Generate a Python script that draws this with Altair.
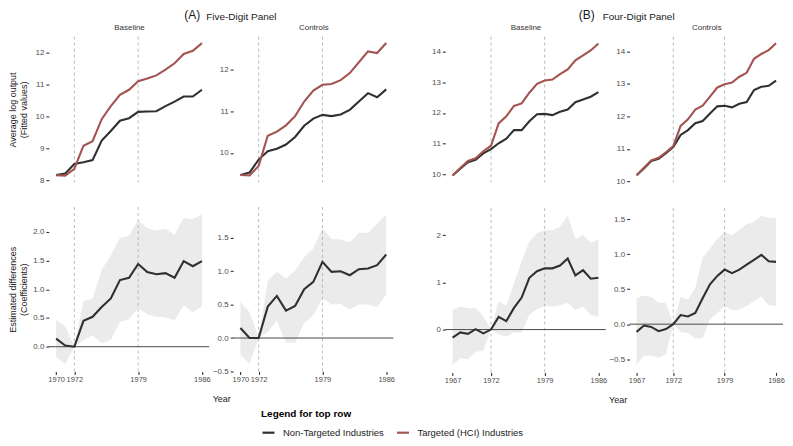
import altair as alt
import pandas as pd

FONT = "Liberation Sans"

YEARS_A = list(range(1970, 1987))
YEARS_B = list(range(1967, 1987))
EVENT_YEARS = [1972, 1979]
SERIES = ["Non-Targeted Industries", "Targeted (HCI) Industries"]
COLORS = ["#303030", "#a35451"]

# Top row: average log output (fitted values)
A_BASE_NON = [8.16, 8.21, 8.51, 8.56, 8.63, 9.24, 9.54, 9.86, 9.94, 10.14, 10.15, 10.16, 10.32, 10.46, 10.62, 10.62, 10.83]
A_BASE_TGT = [8.16, 8.14, 8.36, 9.08, 9.22, 9.91, 10.32, 10.67, 10.83, 11.10, 11.18, 11.28, 11.46, 11.66, 11.95, 12.05, 12.29]
A_CTRL_NON = [9.47, 9.53, 9.84, 10.04, 10.10, 10.20, 10.38, 10.65, 10.82, 10.91, 10.88, 10.92, 11.03, 11.23, 11.43, 11.33, 11.52]
A_CTRL_TGT = [9.47, 9.46, 9.69, 10.41, 10.51, 10.66, 10.88, 11.23, 11.49, 11.63, 11.65, 11.74, 11.91, 12.17, 12.43, 12.39, 12.63]
B_BASE_NON = [9.96, 10.18, 10.39, 10.47, 10.68, 10.82, 11.01, 11.16, 11.44, 11.44, 11.73, 11.96, 11.97, 11.93, 12.04, 12.11, 12.35, 12.44, 12.53, 12.68]
B_BASE_TGT = [9.96, 10.20, 10.43, 10.52, 10.75, 10.93, 11.66, 11.89, 12.23, 12.31, 12.66, 12.95, 13.06, 13.09, 13.27, 13.42, 13.72, 13.88, 14.04, 14.27]
B_CTRL_NON = [10.19, 10.40, 10.63, 10.70, 10.87, 11.06, 11.43, 11.58, 11.79, 11.86, 12.09, 12.31, 12.33, 12.28, 12.39, 12.44, 12.81, 12.91, 12.94, 13.10]
B_CTRL_TGT = [10.19, 10.42, 10.65, 10.73, 10.90, 11.09, 11.71, 11.91, 12.21, 12.33, 12.61, 12.89, 12.99, 13.04, 13.22, 13.34, 13.77, 13.92, 14.04, 14.25]

# Bottom row: estimated differences (coefficients) with confidence bands
A_BASE_COEF = [0.14, 0.02, 0.00, 0.45, 0.52, 0.69, 0.84, 1.16, 1.20, 1.44, 1.30, 1.26, 1.28, 1.20, 1.49, 1.40, 1.49]
A_BASE_HI = [0.47, 0.35, 0.00, 0.79, 0.84, 1.34, 1.59, 1.89, 1.93, 2.20, 2.06, 2.02, 2.05, 1.95, 2.24, 2.22, 2.30]
A_BASE_LO = [-0.18, -0.30, 0.00, 0.11, 0.20, 0.06, 0.12, 0.43, 0.48, 0.68, 0.56, 0.52, 0.51, 0.46, 0.72, 0.60, 0.70]
A_CTRL_COEF = [0.15, 0.00, 0.00, 0.47, 0.63, 0.41, 0.48, 0.73, 0.84, 1.14, 0.99, 1.00, 0.94, 1.03, 1.04, 1.09, 1.25]
A_CTRL_HI = [0.54, 0.39, 0.00, 0.86, 0.99, 0.89, 1.01, 1.21, 1.34, 1.65, 1.48, 1.48, 1.43, 1.58, 1.57, 1.71, 1.85]
A_CTRL_LO = [-0.25, -0.39, 0.00, 0.09, 0.26, -0.07, -0.07, 0.23, 0.34, 0.60, 0.50, 0.51, 0.43, 0.50, 0.50, 0.46, 0.65]
B_BASE_COEF = [-0.17, -0.06, -0.09, 0.01, -0.08, 0.00, 0.27, 0.18, 0.46, 0.68, 1.10, 1.24, 1.30, 1.30, 1.36, 1.51, 1.15, 1.26, 1.08, 1.10]
B_BASE_HI = [0.41, 0.49, 0.46, 0.45, 0.29, 0.00, 0.60, 0.50, 0.99, 1.45, 1.87, 2.05, 2.11, 2.11, 2.19, 2.42, 1.92, 2.01, 1.85, 1.91]
B_BASE_LO = [-0.75, -0.61, -0.63, -0.47, -0.45, 0.00, -0.10, -0.15, -0.06, -0.06, 0.32, 0.43, 0.50, 0.49, 0.51, 0.57, 0.41, 0.49, 0.31, 0.27]
B_CTRL_COEF = [-0.11, -0.02, -0.04, -0.10, -0.07, 0.00, 0.13, 0.11, 0.16, 0.37, 0.57, 0.69, 0.78, 0.73, 0.78, 0.85, 0.92, 0.99, 0.90, 0.89]
B_CTRL_HI = [0.37, 0.41, 0.39, 0.31, 0.30, 0.00, 0.39, 0.35, 0.52, 0.95, 1.08, 1.22, 1.32, 1.27, 1.35, 1.43, 1.46, 1.55, 1.52, 1.52]
B_CTRL_LO = [-0.58, -0.45, -0.45, -0.48, -0.43, 0.00, -0.11, -0.13, -0.21, -0.20, 0.07, 0.16, 0.26, 0.20, 0.21, 0.26, 0.33, 0.40, 0.27, 0.26]

XTICKS_A = [1970, 1972, 1979, 1986]
XTICKS_B = [1967, 1972, 1979, 1986]
XDOM_A = [1969.2, 1986.8]
XDOM_B = [1966.05, 1986.95]

W = 161
W_LAST = 154
H_TOP = 146
H_BOT = 165
EXT = 14
YTX = -36.5

LEGEND = alt.Legend(
    orient="none", legendX=213, legendY=374, direction="horizontal",
    title="Legend for top row", titleFont=FONT, titleFontSize=10, titleFontWeight="bold",
    titleColor="#000000", titlePadding=6, labelFont=FONT, labelFontSize=9.5,
    labelColor="#1a1a1a", symbolType="stroke", symbolStrokeWidth=2.2, symbolSize=144,
    labelOffset=7, columnPadding=8,
)


def block_title(text, size, dx):
    return alt.TitleParams(text, fontSize=size, font=FONT, fontWeight="normal", color="#1a1a1a",
                           anchor="start", frame="group", dx=dx, offset=2)


def top_panel(years, non, tgt, xdom, ydom, yticks, head, width, ytitle=None, btitle=None):
    df = pd.DataFrame({
        "year": years + years,
        "value": non + tgt,
        "series": [SERIES[0]] * len(years) + [SERIES[1]] * len(years),
    })
    xs = alt.Scale(domain=xdom, nice=False, zero=False)
    ys = alt.Scale(domain=ydom, nice=False, zero=False)
    xax = alt.Axis(orient="top", labels=False, ticks=False, domain=False, title=head,
                   titleFontSize=8, titleColor="#333333", titleX=width / 2, titleY=-9,
                   titleBaseline="middle", titleAlign="center")
    yax = dict(values=yticks, format="d", minExtent=EXT, maxExtent=EXT)
    if ytitle:
        yax.update(title=ytitle, titleX=YTX, titleY=H_TOP / 2, titleAngle=270,
                   titleBaseline="middle", titleAlign="center", titleLineHeight=11)
    else:
        yax.update(title="")
    X = alt.X("year:Q", scale=xs, axis=xax)
    ev = alt.Chart(pd.DataFrame({"year": EVENT_YEARS})).mark_rule(
        color="#a8a8a8", strokeDash=[3, 3], strokeWidth=0.8).encode(x=X)
    lines = alt.Chart(df).mark_line(strokeWidth=2.1).encode(
        x=X,
        y=alt.Y("value:Q", scale=ys, axis=alt.Axis(**yax)),
        color=alt.Color("series:N", scale=alt.Scale(domain=SERIES, range=COLORS), legend=LEGEND),
    )
    props = dict(width=width, height=H_TOP)
    if btitle:
        props["title"] = btitle
    return alt.layer(ev, lines).properties(**props)


def bot_panel(years, coef, lo, hi, xdom, xticks, ydom, yticks, yfmt, width, ytitle=None, xtitle=False):
    df = pd.DataFrame({"year": years, "coef": coef, "lo": lo, "hi": hi})
    xs = alt.Scale(domain=xdom, nice=False, zero=False)
    ys = alt.Scale(domain=ydom, nice=False, zero=False)
    xax = dict(values=xticks, format="d", labelPadding=1, labelFontSize=7.5)
    if xtitle:
        xax.update(title="Year", titleX=173, titleY=27, titleBaseline="middle", titleAlign="center")
    else:
        xax.update(title="")
    yax = dict(values=yticks, format=yfmt, minExtent=EXT, maxExtent=EXT)
    if ytitle:
        yax.update(title=ytitle, titleX=YTX, titleY=H_BOT / 2, titleAngle=270,
                   titleBaseline="middle", titleAlign="center", titleLineHeight=11)
    else:
        yax.update(title="")
    X = alt.X("year:Q", scale=xs, axis=alt.Axis(**xax))
    band = alt.Chart(df).mark_area(color="#ebebeb", opacity=1).encode(
        x=X, y=alt.Y("lo:Q", scale=ys, axis=alt.Axis(**yax)), y2="hi:Q")
    ev = alt.Chart(pd.DataFrame({"year": EVENT_YEARS})).mark_rule(
        color="#a8a8a8", strokeDash=[3, 3], strokeWidth=0.8).encode(x=X)
    zero = alt.Chart(pd.DataFrame({"zero": [0.0]})).mark_rule(
        color="#4a4a4a", strokeWidth=1).encode(y=alt.Y("zero:Q", scale=ys, axis=alt.Axis(**yax)))
    line = alt.Chart(df).mark_line(color=COLORS[0], strokeWidth=2.1).encode(
        x=X, y=alt.Y("coef:Q", scale=ys, axis=alt.Axis(**yax)))
    return alt.layer(band, ev, zero, line).properties(width=width, height=H_BOT)


YT_TOP = ["Average log output", "(Fitted values)"]
YT_BOT = ["Estimated differences", "(Coefficients)"]

a1 = top_panel(YEARS_A, A_BASE_NON, A_BASE_TGT, XDOM_A, [7.94, 12.49], [8, 9, 10, 11, 12], "Baseline", W,
               YT_TOP, block_title("(A)", 12, 136))
a2 = top_panel(YEARS_A, A_CTRL_NON, A_CTRL_TGT, XDOM_A, [9.30, 12.78], [10, 11, 12], "Controls", W,
               None, block_title("Five-Digit Panel", 10, -27))
b1 = top_panel(YEARS_B, B_BASE_NON, B_BASE_TGT, XDOM_B, [9.74, 14.49], [10, 11, 12, 13, 14], "Baseline", W,
               None, block_title("(B)", 12, 134))
b2 = top_panel(YEARS_B, B_CTRL_NON, B_CTRL_TGT, XDOM_B, [9.98, 14.45], [10, 11, 12, 13, 14], "Controls", W_LAST,
               None, block_title("Four-Digit Panel", 10, -27))

a3 = bot_panel(YEARS_A, A_BASE_COEF, A_BASE_LO, A_BASE_HI, XDOM_A, XTICKS_A, [-0.43, 2.43], [0, 0.5, 1, 1.5, 2], ".1f", W, YT_BOT, True)
a4 = bot_panel(YEARS_A, A_CTRL_COEF, A_CTRL_LO, A_CTRL_HI, XDOM_A, XTICKS_A, [-0.50, 1.96], [-0.5, 0, 0.5, 1, 1.5], ".1f", W)
b3 = bot_panel(YEARS_B, B_BASE_COEF, B_BASE_LO, B_BASE_HI, XDOM_B, XTICKS_B, [-0.91, 2.58], [0, 1, 2], "d", W, None, True)
b4 = bot_panel(YEARS_B, B_CTRL_COEF, B_CTRL_LO, B_CTRL_HI, XDOM_B, XTICKS_B, [-0.69, 1.66], [-0.5, 0, 0.5, 1, 1.5], ".1f", W_LAST)


def block(top_l, top_r, bot_l, bot_r):
    top_row = alt.hconcat(top_l, top_r, spacing=24, bounds="flush")
    bot_row = alt.hconcat(bot_l, bot_r, spacing=24, bounds="flush")
    return alt.vconcat(top_row, bot_row, spacing=21)


blockA = block(a1, a2, a3, a4)
blockB = block(b1, b2, b3, b4)

chart = alt.hconcat(blockA, blockB, spacing=36).properties(
    padding=0,
).configure_view(stroke=None).configure_axis(
    grid=False, domain=False, labelFont=FONT, titleFont=FONT, labelFontSize=8,
    labelColor="#4d4d4d", tickColor="#333333", tickSize=3, tickWidth=1.1,
    labelPadding=2, titleFontWeight="normal", titleColor="#1a1a1a", titleFontSize=9,
).configure_title(font=FONT)

chart.save("out.html", embed_options={"renderer": "svg", "actions": False})
